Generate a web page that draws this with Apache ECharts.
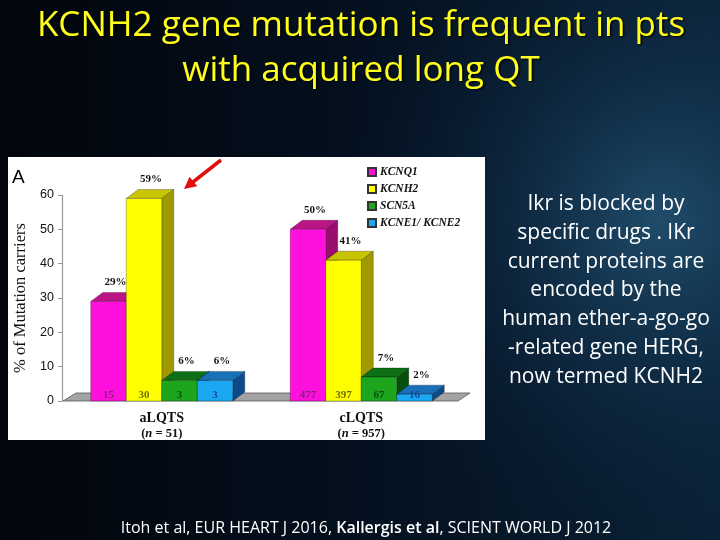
<!DOCTYPE html>
<html>
<head>
<meta charset="utf-8">
<style>html,body{margin:0;padding:0;background:#040a16;}#c{width:720px;height:540px;}</style>
<script src="https://cdn.jsdelivr.net/npm/echarts@6/dist/echarts.min.js"></script>
</head>
<body>
<div id="c"></div>
<script>
// ---- data ----
const categories = ['aLQTS', 'cLQTS'];
const cohortSizes = [51, 957];
const genes = ['KCNQ1', 'KCNH2', 'SCN5A', 'KCNE1/ KCNE2'];
const kcnq1Pct = [29, 50];
const kcnh2Pct = [59, 41];
const scn5aPct = [6, 7];
const kcnePct = [6, 2];
const kcnq1Count = [15, 477];
const kcnh2Count = [30, 397];
const scn5aCount = [3, 67];
const kcneCount = [3, 16];
const yTicks = [0, 10, 20, 30, 40, 50, 60];

const titleLines = ['KCNH2 gene mutation is frequent in pts', 'with acquired long QT'];
const sideText = ['Ikr is blocked by', 'specific drugs . IKr', 'current proteins are', 'encoded by the', 'human ether-a-go-go', '-related gene HERG,', 'now termed KCNH2'];

// ---- styles ----
const pctSeries = [kcnq1Pct, kcnh2Pct, scn5aPct, kcnePct];
const countSeries = [kcnq1Count, kcnh2Count, scn5aCount, kcneCount];
const frontCol = ['#ff10dc', '#ffff00', '#1ea51e', '#1aa8f2'];
const topCol = ['#bb1485', '#c9c400', '#0e7016', '#1870b8'];
const sideCol = ['#9a0e70', '#9e9a00', '#07500e', '#0d4a8c'];
const cntCol = ['#8b1f7c', '#6e6a00', '#0a4d0a', '#1a459a'];
const DX = 12, DY = -9;
const serif = '"Liberation Serif", "DejaVu Serif", serif';
const slideFont = '"Open Sans", Lato, sans-serif';

const chart = echarts.init(document.getElementById('c'));

function barRender(gi) {
  return function (params, api) {
    const cat = api.value(0), val = api.value(1), cnt = api.value(2);
    const base = api.coord([cat, 0]);
    const top = api.coord([cat, val]);
    const band = api.size([1, 0])[0];
    const bw = band * 0.178;
    const cx = base[0] + (gi - 1.5) * bw;
    const x0 = cx - bw / 2, x1 = cx + bw / 2;
    const y0 = base[1], y1 = top[1];
    const edge = { stroke: 'rgba(0,0,0,0.45)', lineWidth: 0.6 };
    return {
      type: 'group',
      children: [
        { type: 'polygon', shape: { points: [[x1, y1], [x1 + DX, y1 + DY], [x1 + DX, y0 + DY], [x1, y0]] }, style: Object.assign({ fill: sideCol[gi] }, edge) },
        { type: 'polygon', shape: { points: [[x0, y1], [x0 + DX, y1 + DY], [x1 + DX, y1 + DY], [x1, y1]] }, style: Object.assign({ fill: topCol[gi] }, edge) },
        { type: 'rect', shape: { x: x0, y: y1, width: bw, height: y0 - y1 }, style: Object.assign({ fill: frontCol[gi] }, edge) },
        { type: 'text', z2: 50, style: { text: String(cnt), x: cx, y: y0 - 6, align: 'center', verticalAlign: 'middle', font: 'bold 11px ' + serif, fill: cntCol[gi] } },
        { type: 'text', z2: 60, style: { text: val + '%', x: cx + 7, y: y1 + DY - 10, align: 'center', verticalAlign: 'middle', font: 'bold 11px ' + serif, fill: '#111' } }
      ]
    };
  };
}

const series = [{
  type: 'custom',
  name: 'floor',
  silent: true,
  data: [[0, 0]],
  z: 1,
  renderItem: function (params, api) {
    const cs = params.coordSys;
    const p = api.coord([0, 0]);
    const xa = cs.x + 1, xb = cs.x + cs.width - 3, y = p[1];
    return { type: 'polygon', shape: { points: [[xa, y], [xa + 13, y - 8], [xb + 12, y - 8], [xb, y]] }, style: { fill: '#a3a3a3', stroke: '#555', lineWidth: 0.8 } };
  }
}];
genes.forEach((g, gi) => {
  series.push({
    type: 'custom',
    name: g,
    itemStyle: { color: frontCol[gi], borderColor: '#333', borderWidth: 0.8 },
    data: categories.map((c, j) => [j, pctSeries[gi][j], countSeries[gi][j]]),
    renderItem: barRender(gi)
  });
});

const bg = {
  type: 'linear', x: 0, y: 0, x2: 1, y2: 0,
  colorStops: [{ offset: 0, color: '#02050b' }, { offset: 0.5, color: '#04101f' }, { offset: 1, color: '#0a2236' }]
};

const titleStyle = { align: 'center', verticalAlign: 'middle', font: '35px ' + slideFont, fill: '#ffff1a', textShadowColor: '#000', textShadowBlur: 2, textShadowOffsetX: 1.5, textShadowOffsetY: 1.5 };

chart.setOption({
  backgroundColor: bg,
  animation: false,
  grid: { left: 62, top: 195, width: 399, height: 206 },
  legend: {
    orient: 'vertical', left: 362, top: 161, itemWidth: 8, itemHeight: 8, itemGap: 5,
    icon: 'rect',
    data: genes,
    textStyle: { fontFamily: serif, fontStyle: 'italic', fontWeight: 'bold', fontSize: 11.5, color: '#111', padding: [0, 0, 0, -1] }
  },
  xAxis: {
    type: 'category', data: categories,
    axisLine: { show: false }, axisTick: { show: false },
    axisLabel: {
      margin: 10,
      formatter: function (v, i) { return '{b|' + v + '}\n{p|(}{i|n}{p| = ' + cohortSizes[i] + ')}'; },
      rich: {
        b: { fontFamily: serif, fontWeight: 'bold', fontSize: 14, color: '#111', lineHeight: 15 },
        p: { fontFamily: serif, fontWeight: 'bold', fontSize: 12.5, color: '#111', lineHeight: 15 },
        i: { fontFamily: serif, fontWeight: 'bold', fontStyle: 'italic', fontSize: 12.5, color: '#111', lineHeight: 15 }
      }
    }
  },
  yAxis: {
    type: 'value', min: yTicks[0], max: yTicks[yTicks.length - 1], interval: 10,
    name: '% of Mutation carriers', nameLocation: 'middle', nameGap: 33, nameRotate: 90,
    nameTextStyle: { fontFamily: serif, fontSize: 16.5, color: '#111' },
    splitLine: { show: false },
    axisLine: { show: true, lineStyle: { color: '#9a9a9a', width: 1.2 } },
    axisTick: { show: true, length: 4, lineStyle: { color: '#9a9a9a' } },
    axisLabel: { fontFamily: '"Liberation Sans", Arial, sans-serif', fontSize: 12.5, color: '#111', margin: 8 }
  },
  graphic: [
    { type: 'circle', z: -20, silent: true, shape: { cx: 660, cy: 220, r: 330 }, style: { fill: { type: 'radial', x: 0.5, y: 0.5, r: 0.5, colorStops: [{ offset: 0, color: 'rgba(40,95,130,0.7)' }, { offset: 0.5, color: 'rgba(25,65,100,0.3)' }, { offset: 1, color: 'rgba(10,30,60,0)' }] } } },
    { type: 'rect', z: -10, silent: true, shape: { x: 8, y: 157, width: 477, height: 283 }, style: { fill: '#ffffff' } },
    { type: 'text', z: 10, style: { text: 'A', x: 12, y: 178, font: '19px "Liberation Sans", Arial, sans-serif', fill: '#000', verticalAlign: 'middle' } },
    { type: 'text', z: 10, style: Object.assign({ text: titleLines[0], x: 361, y: 26 }, titleStyle) },
    { type: 'text', z: 10, style: Object.assign({ text: titleLines[1], x: 361, y: 71 }, titleStyle) },
    { type: 'text', z: 10, style: { text: sideText.join('\n'), x: 606, y: 190, align: 'center', verticalAlign: 'top', lineHeight: 28.7, font: '21px ' + slideFont, fill: '#ffffff' } },
    { type: 'text', z: 10, style: { text: '{n|Itoh et al, EUR HEART J 2016, }{b|Kallergis et al}{n|, SCIENT WORLD J 2012}', x: 366, y: 528, align: 'center', verticalAlign: 'middle', rich: { n: { font: '16px ' + slideFont, fill: '#ffffff' }, b: { font: '600 16px ' + slideFont, fill: '#ffffff' } } } },
    { type: 'line', z: 20, shape: { x1: 221, y1: 160, x2: 193, y2: 182 }, style: { stroke: '#e01010', lineWidth: 3.5 } },
    { type: 'polygon', z: 20, shape: { points: [[184, 189], [189.6, 176.8], [197.2, 186.2]] }, style: { fill: '#e01010' } }
  ],
  series: series
});
</script>
</body>
</html>
